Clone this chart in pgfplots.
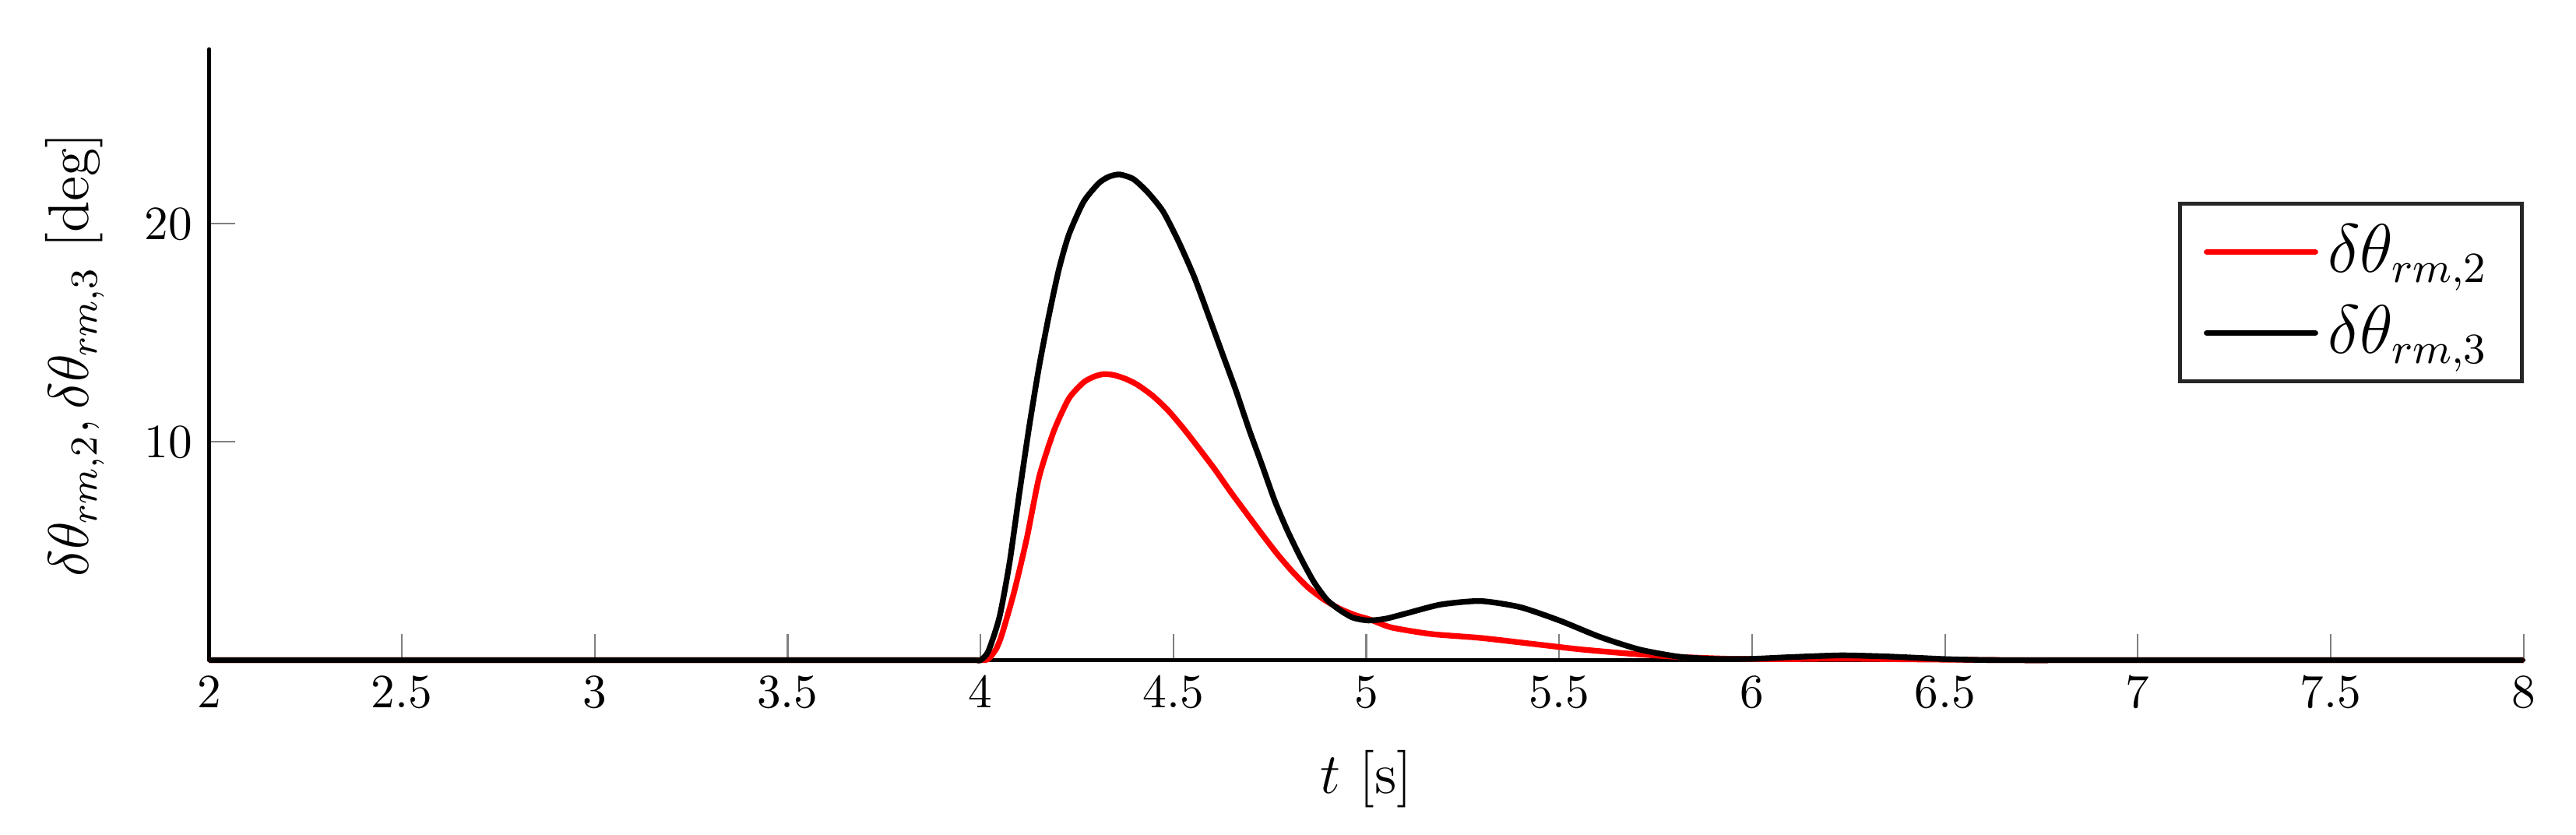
\documentclass[border=0pt]{standalone}
\usepackage{pgfplots}
\pgfplotsset{compat=1.18}
\begin{document}
\begin{tikzpicture}
\begin{axis}[
  scale only axis,
  width=485pt, height=128pt,
  xmin=2, xmax=8, ymin=0, ymax=28,
  axis lines=left,
  every outer x axis line/.style={},
  every outer y axis line/.style={},
  axis line style={-, line width=0.8pt, line cap=round, black},
  xtick={2,2.5,...,8},
  ytick={10,20},
  tick align=inside,
  major tick length=5.5pt,
  tick style={gray, line width=0.35pt},
  xticklabel style={/pgf/number format/fixed},
  xlabel={$t$ [s]},
  ylabel={$\delta\theta_{rm,2},\delta\theta_{rm,3}$ [deg]},
  label style={font=\large},
  xlabel shift=2pt,
  ylabel shift=1.5pt,
  clip=false,
  legend style={draw=black!85, line width=0.8pt, at={(1,0.75)}, anchor=north east, font=\fontsize{13.5}{16}\selectfont, legend cell align=left, inner xsep=5pt, inner ysep=2.3pt, row sep=1.5pt},
  legend image code/.code={\draw[#1, line cap=round] (0cm,0cm) -- (0.8cm,0cm);},
]
\addplot[red, line width=1.2pt, smooth, tension=0.4] coordinates {
(2,0) (2.5,0) (3,0) (3.5,0) (3.9,0) (3.96,0) (3.99,0) (4.0,0) (4.02,0.05) (4.04,0.5) (4.055,1.15) (4.087,3.12) (4.12,5.59) (4.152,8.4)
(4.19,10.5) (4.229,11.99) (4.267,12.73) (4.295,13.0) (4.319,13.11) (4.345,13.07) (4.375,12.9) (4.406,12.63)
(4.446,12.12) (4.486,11.45) (4.527,10.6) (4.567,9.69) (4.608,8.73) (4.648,7.72) (4.689,6.74)
(4.729,5.79) (4.77,4.85) (4.81,4.03) (4.85,3.32) (4.891,2.77) (4.931,2.36) (4.972,2.06)
(5.012,1.85) (5.065,1.5) (5.168,1.2) (5.296,1.02)
(5.425,0.76) (5.553,0.5) (5.682,0.3) (5.81,0.15) (5.95,0.06) (6.1,0.05) (6.23,0.07)
(6.4,0.04) (6.6,0.01) (6.7,0) (6.8,0) (7,0) (7.5,0) (8,0)
};
\addlegendentry{$\delta\theta_{rm,2}$}
\addplot[black, line width=1.2pt, smooth, tension=0.4] coordinates {
(2,0) (2.5,0) (3,0) (3.5,0) (3.9,0) (3.96,0) (3.99,0) (4.0,0) (4.02,0.4) (4.049,1.97) (4.075,4.44) (4.1,7.56) (4.126,10.68) (4.152,13.47)
(4.177,15.77) (4.203,17.9) (4.229,19.5) (4.267,21.0) (4.306,21.85) (4.332,22.15) (4.36,22.26) (4.396,22.05)
(4.433,21.45) (4.473,20.57) (4.513,19.2) (4.554,17.56) (4.594,15.65) (4.628,14.0) (4.662,12.36)
(4.696,10.58) (4.73,8.93) (4.763,7.29) (4.796,5.92) (4.83,4.69) (4.864,3.59) (4.898,2.77)
(4.931,2.3) (4.965,1.95) (5.005,1.82) (5.05,1.9)
(5.103,2.14) (5.193,2.55) (5.296,2.71) (5.399,2.43) (5.502,1.81) (5.605,1.07)
(5.708,0.49) (5.81,0.16) (5.9,0.06) (6.0,0.06) (6.1,0.14) (6.23,0.22) (6.35,0.17)
(6.5,0.05) (6.6,0.01) (6.7,0) (6.8,0) (7,0) (7.5,0) (8,0)
};
\addlegendentry{$\delta\theta_{rm,3}$}
\path ([yshift=10.3pt]rel axis cs:0,1);
\path ([xshift=11pt]rel axis cs:1,1);
\path ([yshift=-36.5pt]rel axis cs:0,0);
\path ([xshift=-43.8pt]rel axis cs:0,0);
\end{axis}
\end{tikzpicture}
\end{document}
